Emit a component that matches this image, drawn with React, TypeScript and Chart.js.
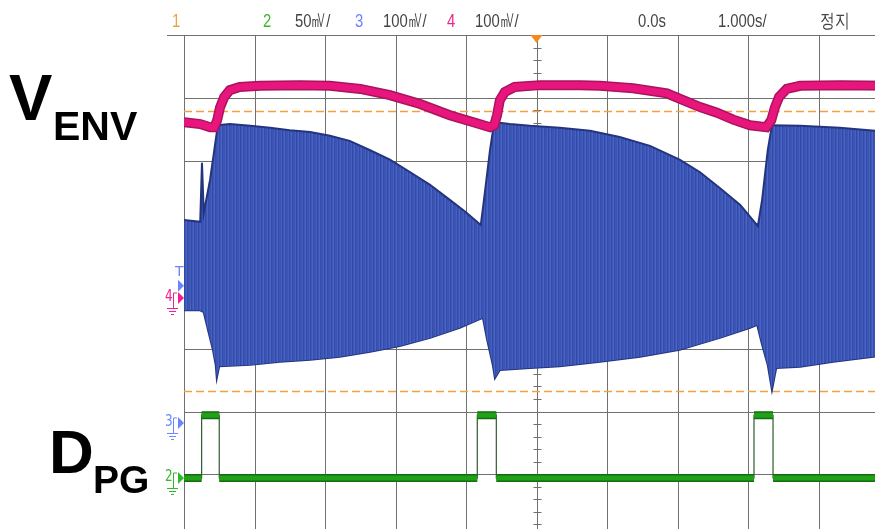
import React, { useEffect, useRef } from "react";
import { Chart, registerables } from "chart.js";

Chart.register(...registerables);

// ---------- page / screen geometry ----------
const VIEW_W = 875;
const VIEW_H = 529;
const CANVAS_W = 900;
const CANVAS_H = 545;
const PLOT_LEFT = 184;
const PLOT_TOP = 35;
const PLOT_RIGHT = 889;
const PLOT_BOTTOM = 537;

// ---------- time base (1.000 s/div, delay 0.0 s) ----------
const T_MIN = -5;
const T_MAX = 5;
const Y_DIVS = 4; // half of 8 vertical divisions

// ---------- channel settings ----------
const CH2_SCALE = 50; // mV/div
const CH3_SCALE = 100;
const CH4_SCALE = 100;
const CH2_GROUND_DIV = -3.06;
const CH3_GROUND_DIV = -2.167;
const CH4_GROUND_DIV = -0.239;

// ---------- header texts ----------
const HEADER_TEXT = ["1", "2", "50㎷/", "3", "100㎷/", "4", "100㎷/", "0.0s", "1.000s/", "정지"];
const HEADER_X = [172, 263, 295, 355, 383, 447, 475, 638, 718, 820];
const HEADER_COLOR = ["#f0a040", "#3cb82c", "#444444", "#7080ff", "#444444", "#f0208c", "#444444", "#444444", "#444444", "#444444"];

// ---------- channel 3 (blue, AM carrier) envelope, mV ----------
const CH3_UPPER_T = [-5.0, -4.77, -4.745, -4.72, -4.63, -4.52, -4.35, -4.06, -3.78, -3.5, -3.21, -2.93, -2.65, -2.36, -2.08, -1.79, -1.51, -1.23, -1.01, -0.79, -0.745, -0.66, -0.6, -0.38, -0.09, 0.33, 0.76, 1.18, 1.61, 2.03, 2.32, 2.6, 2.89, 3.14, 3.2, 3.28, 3.34, 3.74, 4.3, 4.8, 5.0];
const CH3_UPPER_MV = [322, 319, 413, 333, 386, 473, 475, 472, 469, 465, 462, 456, 448, 433, 418, 398, 378, 354, 335, 314, 354, 433, 478, 475, 472, 469, 464, 454, 440, 418, 398, 373, 346, 312, 354, 433, 473, 472, 469, 464, 462];
const CH3_LOWER_T = [-5.0, -4.77, -4.72, -4.66, -4.59, -4.55, -4.535, -4.5, -4.06, -3.64, -3.21, -2.79, -2.36, -1.94, -1.51, -1.09, -0.82, -0.76, -0.7, -0.62, -0.59, -0.52, -0.09, 0.33, 0.9, 1.47, 2.03, 2.6, 3.03, 3.13, 3.2, 3.28, 3.34, 3.4, 3.74, 4.21, 4.78, 5.0];
const CH3_LOWER_MV = [178, 178, 175, 147, 115, 91, 70, 89, 91, 96, 99, 104, 112, 121, 134, 150, 163, 166, 131, 91, 70, 83, 86, 89, 96, 104, 115, 134, 150, 155, 123, 91, 51, 86, 88, 96, 104, 107];
const CH3_TRIGGER_MV = 217;
const CURSOR_MV = [495, 49]; // horizontal cursors on channel 3

// ---------- channel 4 (pink, envelope), mV ----------
const CH4_T = [-5.0, -4.77, -4.63, -4.57, -4.53, -4.49, -4.43, -4.35, -4.21, -3.92, -3.36, -2.93, -2.5, -2.08, -1.65, -1.23, -0.87, -0.66, -0.6, -0.56, -0.52, -0.45, -0.31, 0.05, 0.62, 0.9, 1.37, 1.85, 2.08, 2.32, 2.56, 2.79, 3.03, 3.26, 3.33, 3.38, 3.44, 3.55, 3.74, 4.31, 5.0];
const CH4_MV = [285, 282, 277, 277, 288, 308, 325, 336, 341, 343, 344, 343, 338, 328, 314, 296, 284, 277, 280, 296, 320, 333, 341, 344, 344, 343, 339, 331, 320, 309, 300, 289, 280, 277, 288, 308, 325, 338, 343, 344, 343];

// ---------- channel 2 (green, digital pulse) ----------
const CH2_RISE_T = [-4.75, -0.84, 3.085];
const CH2_FALL_T = [-4.5, -0.57, 3.355];
const CH2_LOW_MV = 0;
const CH2_HIGH_MV = 50;

const pts = (ts: number[], vs: number[]) => ts.map((t, i) => ({ x: t, y: vs[i] }));

function pulseData(withGaps: boolean) {
  const d: { x: number; y: number | null }[] = [{ x: T_MIN, y: CH2_LOW_MV }];
  CH2_RISE_T.forEach((r, i) => {
    const f = CH2_FALL_T[i];
    d.push({ x: r, y: CH2_LOW_MV });
    if (withGaps) d.push({ x: r, y: null });
    d.push({ x: r, y: CH2_HIGH_MV }, { x: f, y: CH2_HIGH_MV });
    if (withGaps) d.push({ x: f, y: null });
    d.push({ x: f, y: CH2_LOW_MV });
  });
  d.push({ x: T_MAX, y: CH2_LOW_MV });
  return d;
}

const axisRange = (scale: number, groundDiv: number) => ({
  min: (-Y_DIVS - groundDiv) * scale,
  max: (Y_DIVS - groundDiv) * scale,
});

// vertical-streak fill that imitates the dense carrier trace
function carrierPattern(): CanvasPattern | string {
  const c = document.createElement("canvas");
  const shades = ["#3c54b2", "#4660c2", "#3249a8", "#3f58b6", "#4a65c8", "#354daa", "#3c55b4"];
  c.width = shades.length;
  c.height = 1;
  const g = c.getContext("2d");
  if (!g) return "#3c54b2";
  shades.forEach((s, i) => {
    g.fillStyle = s;
    g.fillRect(i, 0, 1, 1);
  });
  return g.createPattern(c, "repeat") || "#3c54b2";
}

const graticulePlugin = {
  id: "graticule",
  beforeDatasetsDraw(chart: any) {
    const { ctx } = chart;
    const xs = chart.scales.x;
    const yg = chart.scales.yg;
    const y3 = chart.scales.y3;
    const top = yg.getPixelForValue(Y_DIVS);
    const bottom = yg.getPixelForValue(-Y_DIVS);
    const left = xs.getPixelForValue(T_MIN);
    const right = xs.getPixelForValue(T_MAX);
    ctx.save();
    ctx.strokeStyle = "#707070";
    ctx.lineWidth = 1;
    ctx.beginPath();
    for (let i = T_MIN; i <= T_MAX; i++) {
      const px = Math.round(xs.getPixelForValue(i)) + 0.5;
      ctx.moveTo(px, top);
      ctx.lineTo(px, bottom);
    }
    for (let j = -Y_DIVS; j <= Y_DIVS; j++) {
      const py = Math.round(yg.getPixelForValue(j)) + 0.5;
      ctx.moveTo(j === Y_DIVS ? 167 : left, py);
      ctx.lineTo(right, py);
    }
    const cx = Math.round(xs.getPixelForValue(0)) + 0.5;
    const cy = Math.round(yg.getPixelForValue(0)) + 0.5;
    for (let k = -Y_DIVS * 5; k <= Y_DIVS * 5; k++) {
      const py = Math.round(yg.getPixelForValue(k / 5)) + 0.5;
      ctx.moveTo(cx - 4, py);
      ctx.lineTo(cx + 4, py);
    }
    for (let k = T_MIN * 5; k <= T_MAX * 5; k++) {
      const px = Math.round(xs.getPixelForValue(k / 5)) + 0.5;
      ctx.moveTo(px, cy - 4);
      ctx.lineTo(px, cy + 4);
    }
    ctx.stroke();
    // cursors
    ctx.strokeStyle = "#f5a040";
    ctx.lineWidth = 1.5;
    ctx.setLineDash([8, 4]);
    ctx.beginPath();
    CURSOR_MV.forEach((v) => {
      const py = Math.round(y3.getPixelForValue(v)) + 0.5;
      ctx.moveTo(left, py);
      ctx.lineTo(right, py);
    });
    ctx.stroke();
    ctx.restore();
  },
};

function drawMarker(ctx: CanvasRenderingContext2D, label: string, y: number, color: string) {
  ctx.save();
  ctx.fillStyle = color;
  ctx.strokeStyle = color;
  ctx.beginPath();
  ctx.moveTo(184, y);
  ctx.lineTo(178, y - 6);
  ctx.lineTo(178, y + 6);
  ctx.closePath();
  ctx.fill();
  ctx.font = '15px "DejaVu Sans", sans-serif';
  ctx.textBaseline = "middle";
  ctx.textAlign = "left";
  ctx.save();
  ctx.translate(165, y - 1);
  ctx.scale(0.8, 1);
  ctx.fillText(label, 0, 0);
  ctx.restore();
  ctx.lineWidth = 1;
  ctx.beginPath();
  ctx.moveTo(173.5, y - 5);
  ctx.lineTo(177, y - 5);
  ctx.moveTo(173.5, y - 5);
  ctx.lineTo(173.5, y + 10);
  ctx.moveTo(167, y + 10.5);
  ctx.lineTo(178, y + 10.5);
  ctx.moveTo(169, y + 13.5);
  ctx.lineTo(176, y + 13.5);
  ctx.moveTo(171, y + 16.5);
  ctx.lineTo(174, y + 16.5);
  ctx.stroke();
  ctx.restore();
}

const overlayPlugin = {
  id: "overlay",
  afterDraw(chart: any) {
    const { ctx } = chart;
    const xs = chart.scales.x;
    ctx.save();
    // header
    ctx.textBaseline = "alphabetic";
    ctx.font = '19px "Liberation Sans", Arial, sans-serif';
    HEADER_TEXT.forEach((t, i) => {
      ctx.save();
      ctx.translate(HEADER_X[i], 27);
      ctx.scale(0.78, 1);
      ctx.fillStyle = HEADER_COLOR[i];
      ctx.fillText(t, 0, 0);
      ctx.restore();
    });
    // trigger position marker
    const tx = xs.getPixelForValue(0);
    ctx.fillStyle = "#f08c1e";
    ctx.beginPath();
    ctx.moveTo(tx - 6, 35);
    ctx.lineTo(tx + 6, 35);
    ctx.lineTo(tx, 43);
    ctx.closePath();
    ctx.fill();
    // trigger level marker
    const trigY = chart.scales.y3.getPixelForValue(CH3_TRIGGER_MV);
    ctx.fillStyle = "#6a86ff";
    ctx.beginPath();
    ctx.moveTo(184, trigY);
    ctx.lineTo(178, trigY - 6);
    ctx.lineTo(178, trigY + 6);
    ctx.closePath();
    ctx.fill();
    ctx.font = '14px "DejaVu Sans", sans-serif';
    ctx.textBaseline = "middle";
    ctx.fillText("T", 175, trigY - 13);
    // channel ground markers
    drawMarker(ctx, "4", chart.scales.y4.getPixelForValue(0) - 3, "#f0208c");
    drawMarker(ctx, "3", chart.scales.y3.getPixelForValue(0) + 1, "#6a86ff");
    drawMarker(ctx, "2", chart.scales.y2.getPixelForValue(0), "#2fb82a");
    // big labels
    ctx.fillStyle = "#000000";
    ctx.textBaseline = "alphabetic";
    ctx.font = 'bold 65px "Liberation Sans", Arial, sans-serif';
    ctx.fillText("V", 9, 120);
    ctx.font = 'bold 41px "Liberation Sans", Arial, sans-serif';
    ctx.fillText("ENV", 53, 140);
    ctx.font = 'bold 62px "Liberation Sans", Arial, sans-serif';
    ctx.fillText("D", 49, 473);
    ctx.font = 'bold 39px "Liberation Sans", Arial, sans-serif';
    ctx.fillText("PG", 93, 493);
    ctx.restore();
  },
};

export default function App() {
  const canvasRef = useRef<HTMLCanvasElement | null>(null);

  useEffect(() => {
    const canvas = canvasRef.current;
    if (!canvas) return;
    const chart = new Chart(canvas, {
      type: "line",
      data: {
        datasets: [
          {
            data: pts(CH3_LOWER_T, CH3_LOWER_MV),
            yAxisID: "y3",
            borderColor: "#24347e",
            borderWidth: 2,
            fill: false,
            order: 5,
          },
          {
            data: pts(CH3_UPPER_T, CH3_UPPER_MV),
            yAxisID: "y3",
            borderColor: "#24347e",
            borderWidth: 2,
            backgroundColor: carrierPattern(),
            fill: "-1",
            order: 4,
          },
          {
            data: pts(CH4_T, CH4_MV),
            yAxisID: "y4",
            borderColor: "#a8145e",
            borderWidth: 10,
            fill: false,
            order: 3,
          },
          {
            data: pts(CH4_T, CH4_MV),
            yAxisID: "y4",
            borderColor: "#e8157d",
            borderWidth: 7,
            fill: false,
            order: 2,
          },
          {
            data: pulseData(false),
            yAxisID: "y2",
            borderColor: "#2f5a2c",
            borderWidth: 1.2,
            fill: false,
            order: 1,
          },
          {
            data: pulseData(true),
            yAxisID: "y2",
            borderColor: "#136e0e",
            borderWidth: 8,
            borderCapStyle: "butt",
            fill: false,
            spanGaps: false,
            order: 0.5,
          },
          {
            data: pulseData(true),
            yAxisID: "y2",
            borderColor: "#22a01a",
            borderWidth: 5,
            borderCapStyle: "butt",
            fill: false,
            spanGaps: false,
            order: 0,
          },
        ],
      },
      options: {
        animation: false,
        responsive: false,
        events: [],
        layout: {
          padding: {
            left: PLOT_LEFT,
            top: PLOT_TOP,
            right: CANVAS_W - PLOT_RIGHT,
            bottom: CANVAS_H - PLOT_BOTTOM,
          },
        },
        elements: { point: { radius: 0 }, line: { tension: 0 } },
        plugins: { legend: { display: false }, tooltip: { enabled: false } },
        scales: {
          x: { type: "linear", min: T_MIN, max: T_MAX, display: false },
          yg: { type: "linear", min: -Y_DIVS, max: Y_DIVS, display: false },
          y2: { type: "linear", ...axisRange(CH2_SCALE, CH2_GROUND_DIV), display: false },
          y3: { type: "linear", ...axisRange(CH3_SCALE, CH3_GROUND_DIV), display: false },
          y4: { type: "linear", ...axisRange(CH4_SCALE, CH4_GROUND_DIV), display: false },
        },
      } as any,
      plugins: [graticulePlugin, overlayPlugin],
    });
    return () => chart.destroy();
  }, []);

  return (
    <div
      style={{
        position: "absolute",
        left: 0,
        top: 0,
        width: VIEW_W,
        height: VIEW_H,
        overflow: "hidden",
        background: "#ffffff",
      }}
    >
      <canvas ref={canvasRef} width={CANVAS_W} height={CANVAS_H} style={{ display: "block" }} />
    </div>
  );
}
